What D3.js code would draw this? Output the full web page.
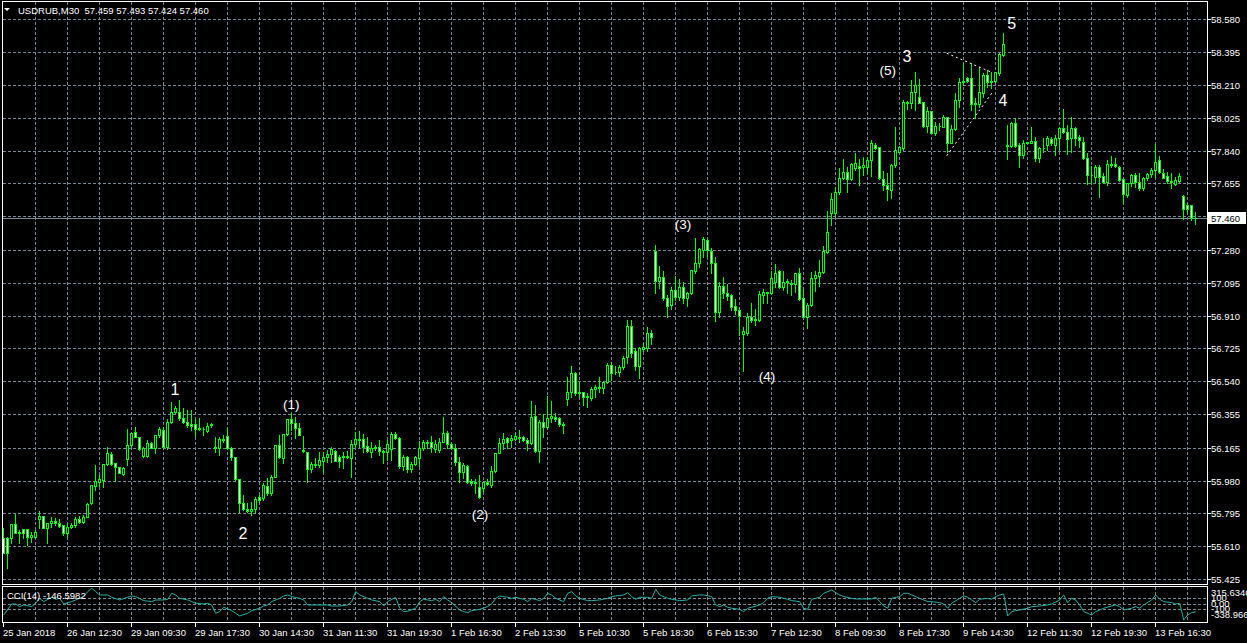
<!DOCTYPE html>
<html><head><meta charset="utf-8">
<script src="https://cdn.jsdelivr.net/npm/d3@7"></script>
<style>
html,body{margin:0;padding:0;background:#000;overflow:hidden}
svg{display:block}
text{font-family:"Liberation Sans",Arial,sans-serif}
</style>
</head><body><svg id="c" width="1247" height="643"></svg>
<script>
// ---------- DATA ----------
const symbolTitle = "USDRUB,M30  57.459 57.493 57.424 57.460";
const open = [
55.655,55.655,55.655,55.735,55.686,55.705,55.705,55.660,55.660,55.762,
55.780,55.711,55.739,55.750,55.739,55.730,55.683,55.717,55.730,55.762,
55.748,55.777,55.852,55.951,55.974,55.983,56.074,56.130,56.077,56.055,
56.017,56.102,56.179,56.252,56.224,56.119,56.119,56.190,56.162,56.235,
56.265,56.171,56.312,56.368,56.368,56.331,56.312,56.297,56.297,56.269,
56.269,56.261,56.293,56.167,56.162,56.213,56.231,56.162,56.115,55.987,
55.852,55.818,55.810,55.818,55.886,55.880,55.949,55.912,56.002,56.181,
56.109,56.241,56.325,56.306,56.275,56.151,56.143,56.043,56.074,56.068,
56.091,56.111,56.128,56.147,56.111,56.113,56.117,56.109,56.186,56.213,
56.213,56.175,56.143,56.166,56.170,56.147,56.139,56.158,56.241,56.222,
56.064,56.115,56.046,56.072,56.106,56.162,56.200,56.196,56.158,56.153,
56.200,56.247,56.185,56.162,56.087,56.030,56.062,55.980,55.965,55.942,
55.940,55.970,55.955,56.034,56.134,56.194,56.222,56.209,56.215,56.226,
56.226,56.209,56.190,56.344,56.149,56.309,56.284,56.331,56.337,56.331,
56.296,56.440,56.481,56.585,56.476,56.481,56.453,56.444,56.494,56.506,
56.500,56.538,56.632,56.590,56.594,56.618,56.675,56.853,56.710,56.626,
56.724,56.725,56.810,57.276,57.107,57.126,57.007,56.970,57.054,57.017,
57.069,57.011,57.035,57.163,57.205,57.280,57.336,57.276,57.205,56.932,
57.077,57.039,57.026,56.964,56.941,56.804,56.810,56.904,56.889,56.885,
57.026,57.039,57.039,57.101,57.161,57.073,57.097,57.092,57.088,57.148,
57.007,56.904,56.970,57.120,57.135,57.154,57.270,57.490,57.490,57.605,
57.684,57.721,57.678,57.740,57.753,57.746,57.750,57.787,57.872,57.858,
57.678,57.646,57.618,57.759,57.834,57.853,58.112,58.107,58.172,58.140,
58.112,57.979,58.063,57.941,57.979,57.975,58.028,57.885,57.962,58.125,
58.225,58.248,58.248,58.101,58.103,58.163,58.266,58.229,58.234,58.276,
58.379,57.872,57.866,57.998,57.872,57.815,57.885,57.881,57.894,57.796,
57.853,57.872,57.904,57.872,57.909,57.966,57.947,57.909,57.966,57.919,
57.890,57.796,57.702,57.693,57.749,57.697,57.665,57.765,57.765,57.746,
57.678,57.590,57.655,57.702,57.665,57.627,57.684,57.708,57.731,57.787,
57.716,57.697,57.667,57.652,57.671,57.586,57.533,57.533,57.459];
const high = [
55.711,55.660,55.735,55.790,55.701,55.705,55.705,55.692,55.701,55.809,
55.780,55.743,55.777,55.767,55.762,55.730,55.739,55.739,55.777,55.780,
55.786,55.852,55.955,56.068,56.012,56.074,56.171,56.143,56.077,56.055,
56.058,56.269,56.250,56.284,56.224,56.171,56.209,56.199,56.239,56.284,
56.284,56.325,56.425,56.400,56.434,56.387,56.378,56.378,56.325,56.331,
56.284,56.303,56.303,56.228,56.228,56.237,56.275,56.171,56.115,55.987,
55.899,55.852,55.861,55.889,55.899,55.964,55.993,56.012,56.181,56.237,
56.241,56.325,56.359,56.340,56.303,56.231,56.143,56.087,56.105,56.143,
56.143,56.153,56.171,56.153,56.124,56.143,56.147,56.209,56.256,56.260,
56.241,56.228,56.196,56.181,56.209,56.153,56.209,56.256,56.256,56.228,
56.124,56.121,56.087,56.119,56.203,56.209,56.209,56.233,56.209,56.218,
56.340,56.260,56.200,56.185,56.115,56.077,56.068,55.989,55.989,56.012,
55.974,55.989,56.062,56.134,56.222,56.247,56.228,56.237,56.247,56.265,
56.233,56.218,56.431,56.406,56.324,56.354,56.457,56.429,56.359,56.340,
56.312,56.566,56.626,56.594,56.538,56.481,56.472,56.506,56.519,56.562,
56.538,56.645,56.650,56.626,56.632,56.682,56.885,56.885,56.725,56.731,
56.754,56.844,56.829,57.308,57.190,57.163,57.026,57.069,57.133,57.114,
57.101,57.045,57.167,57.346,57.289,57.351,57.340,57.289,57.238,57.101,
57.129,57.088,57.032,57.002,56.960,56.848,56.923,56.979,56.945,57.050,
57.058,57.045,57.163,57.201,57.167,57.163,57.114,57.110,57.152,57.176,
57.058,56.979,57.158,57.163,57.223,57.302,57.501,57.599,57.633,57.740,
57.791,57.750,57.772,57.828,57.791,57.802,57.806,57.900,57.881,57.862,
57.727,57.712,57.763,57.971,57.866,58.125,58.122,58.238,58.285,58.242,
58.116,58.088,58.063,58.003,57.994,58.041,58.031,57.984,58.163,58.248,
58.332,58.257,58.336,58.135,58.313,58.276,58.294,58.285,58.285,58.388,
58.505,57.984,58.003,58.022,57.881,57.900,57.890,57.975,57.919,57.862,
57.909,57.922,57.919,57.928,57.975,58.073,57.984,58.028,57.971,57.928,
57.915,57.825,57.753,57.759,57.759,57.716,57.787,57.810,57.796,57.753,
57.684,57.659,57.706,57.712,57.712,57.693,57.716,57.740,57.875,57.810,
57.734,57.721,57.712,57.693,57.712,57.590,57.543,57.533,57.493];
const low = [
55.570,55.485,55.626,55.683,55.626,55.655,55.617,55.636,55.655,55.711,
55.711,55.630,55.720,55.730,55.720,55.673,55.664,55.711,55.720,55.739,
55.743,55.773,55.848,55.927,55.949,55.946,56.068,56.066,55.980,56.021,
56.012,56.066,56.171,56.224,56.152,56.115,56.115,56.162,56.137,56.228,
56.162,56.156,56.303,56.363,56.322,56.303,56.284,56.265,56.231,56.265,
56.237,56.256,56.284,56.143,56.124,56.199,56.158,56.096,55.983,55.805,
55.814,55.805,55.786,55.795,55.861,55.871,55.899,55.899,55.998,56.105,
56.077,56.237,56.265,56.218,56.237,56.143,55.970,56.030,56.055,56.058,
56.027,56.087,56.083,56.091,56.059,56.049,56.109,56.002,56.171,56.171,
56.143,56.143,56.115,56.153,56.124,56.081,56.096,56.096,56.213,56.053,
56.040,56.030,56.030,56.068,56.064,56.153,56.162,56.143,56.143,56.143,
56.196,56.162,56.158,56.068,55.974,55.997,55.965,55.955,55.908,55.880,
55.918,55.955,55.946,56.030,56.134,56.158,56.162,56.171,56.209,56.200,
56.203,56.153,56.185,56.143,56.087,56.228,56.275,56.312,56.316,56.290,
56.250,56.406,56.453,56.462,56.453,56.406,56.397,56.434,56.453,56.481,
56.472,56.528,56.547,56.581,56.570,56.607,56.641,56.678,56.603,56.560,
56.712,56.712,56.750,57.039,57.064,56.998,56.904,56.947,56.998,56.998,
56.983,56.964,57.032,57.148,57.182,57.238,57.238,57.152,56.881,56.900,
57.007,56.998,56.941,56.919,56.801,56.599,56.801,56.876,56.857,56.881,
56.979,56.983,57.032,57.073,57.064,57.054,57.035,57.026,57.045,56.998,
56.904,56.838,56.966,57.050,57.079,57.148,57.265,57.421,57.471,57.595,
57.678,57.609,57.674,57.731,57.646,57.703,57.712,57.697,57.847,57.678,
57.618,57.562,57.571,57.749,57.834,57.843,58.073,58.078,58.069,58.107,
57.971,57.947,57.937,57.928,57.956,57.971,57.834,57.881,57.956,58.088,
58.210,58.229,58.069,58.022,58.088,58.144,58.200,58.191,58.229,58.266,
58.373,57.791,57.862,57.862,57.749,57.796,57.881,57.881,57.783,57.778,
57.834,57.843,57.872,57.815,57.843,57.941,57.821,57.834,57.872,57.862,
57.791,57.652,57.652,57.665,57.580,57.655,57.646,57.749,57.749,57.671,
57.547,57.580,57.641,57.633,57.618,57.618,57.674,57.693,57.693,57.712,
57.684,57.655,57.627,57.646,57.665,57.452,57.486,57.449,57.424];
const close = [
55.574,55.574,55.735,55.686,55.692,55.686,55.660,55.673,55.692,55.780,
55.711,55.743,55.752,55.739,55.726,55.683,55.720,55.730,55.762,55.748,
55.777,55.848,55.955,55.978,55.987,56.074,56.134,56.074,56.055,56.025,
56.051,56.179,56.250,56.228,56.158,56.166,56.190,56.166,56.235,56.269,
56.171,56.312,56.368,56.389,56.331,56.312,56.291,56.290,56.269,56.275,
56.268,56.290,56.297,56.162,56.213,56.209,56.162,56.115,55.987,55.852,
55.818,55.810,55.818,55.876,55.871,55.955,55.908,56.002,56.181,56.111,
56.241,56.325,56.306,56.275,56.237,56.145,56.043,56.074,56.068,56.096,
56.115,56.130,56.156,56.092,56.092,56.117,56.113,56.185,56.213,56.211,
56.171,56.147,56.166,56.170,56.149,56.143,56.185,56.241,56.218,56.064,
56.115,56.046,56.074,56.115,56.162,56.200,56.194,56.171,56.185,56.200,
56.250,56.185,56.162,56.087,56.030,56.068,55.974,55.965,55.974,55.890,
55.970,55.959,56.034,56.134,56.190,56.215,56.200,56.222,56.233,56.222,
56.209,56.190,56.337,56.149,56.309,56.280,56.335,56.346,56.325,56.297,
56.294,56.481,56.585,56.472,56.481,56.449,56.459,56.494,56.506,56.500,
56.534,56.632,56.588,56.594,56.622,56.673,56.853,56.701,56.626,56.725,
56.731,56.810,56.791,57.107,57.126,57.007,56.966,57.054,57.017,57.069,
57.011,57.035,57.167,57.205,57.284,57.342,57.280,57.205,56.932,57.077,
57.039,57.020,56.960,56.941,56.908,56.823,56.904,56.885,56.887,57.032,
57.045,57.041,57.120,57.152,57.073,57.097,57.107,57.088,57.152,57.002,
56.904,56.970,57.120,57.139,57.154,57.274,57.379,57.565,57.609,57.684,
57.721,57.678,57.765,57.768,57.740,57.759,57.787,57.881,57.853,57.684,
57.646,57.622,57.759,57.843,57.858,58.112,58.110,58.172,58.210,58.110,
57.979,58.063,57.941,57.979,57.977,58.028,57.885,57.962,58.125,58.229,
58.234,58.232,58.101,58.110,58.169,58.266,58.229,58.234,58.285,58.385,
58.441,57.866,57.998,57.866,57.815,57.885,57.887,57.894,57.796,57.853,
57.857,57.909,57.881,57.909,57.966,57.947,57.904,57.966,57.909,57.900,
57.796,57.702,57.700,57.749,57.693,57.665,57.765,57.759,57.753,57.674,
57.595,57.655,57.702,57.665,57.627,57.684,57.708,57.731,57.778,57.721,
57.687,57.671,57.665,57.674,57.697,57.511,57.509,57.458,57.460];

const priceTickValues = [58.580,58.395,58.210,58.025,57.840,57.655,57.470,57.280,57.095,56.910,56.725,56.540,56.355,56.165,55.980,55.795,55.610,55.425];
const priceTickLabels = ["58.580","58.395","58.210","58.025","57.840","57.655","","57.280","57.095","56.910","56.725","56.540","56.355","56.165","55.980","55.795","55.610","55.425"];
const lastPrice = 57.460;
const lastPriceLabel = "57.460";

const timeLabels = ["25 Jan 2018","26 Jan 12:30","29 Jan 09:30","29 Jan 17:30","30 Jan 14:30","31 Jan 11:30","31 Jan 19:30","1 Feb 16:30","2 Feb 13:30","5 Feb 10:30","5 Feb 18:30","6 Feb 15:30","7 Feb 12:30","8 Feb 09:30","8 Feb 17:30","9 Feb 14:30","12 Feb 11:30","12 Feb 19:30","13 Feb 16:30"];

const cciTitle = "CCI(14) -146.5982";
const cciMax = 315.6346, cciMin = -338.966;
const cciLevels = [100, 0, -100];
const cciBars = [0,2,3,4,5,7,8,9,10,12,13,14,15,17,18,19,20,21,22,23,24,26,27,29,31,32,33,35,37,38,40,41,42,43,44,46,47,48,50,51,52,53,54,55,57,58,59,61,62,64,65,66,67,69,70,71,72,74,75,76,77,79,81,82,84,86,87,88,89,91,92,94,95,96,98,99,100,101,103,104,105,107,108,109,110,111,112,114,115,116,117,119,121,122,123,124,126,127,128,130,131,132,134,135,136,137,138,140,141,142,143,144,146,147,149,151,152,153,155,156,157,158,159,161,162,163,164,166,167,169,171,172,174,175,177,178,179,180,181,182,184,185,186,187,189,190,191,192,194,195,196,197,199,200,201,202,204,205,207,208,209,210,212,213,215,217,218,219,220,221,222,224,225,226,227,229,230,231,232,234,235,236,237,239,240,241,242,243,244,246,247,248,249,250,251,252,253,254,256,257,259,261,262,264,265,266,267,268,269,270,272,273,274,275,277,278,279,280,282,283,284,285,287,288,289,290,292,293,294,295,296,297,298];
const cciValues = [-204,-4,-4,-52,-22,-52,9,99,39,118,81,99,-4,39,69,99,130,221,281,221,160,160,118,69,118,142,130,57,39,69,69,81,190,160,99,69,39,9,-4,9,-22,-173,-143,-64,-125,-173,-222,-173,-125,-82,-40,-22,39,99,142,160,130,99,69,-22,-22,-22,-22,-40,-40,-22,39,221,160,99,69,39,-40,39,118,-82,-143,-135,-82,39,81,57,81,39,130,69,21,-113,-143,-161,-125,-101,-52,-4,99,142,118,99,118,81,39,99,57,99,190,160,99,39,190,221,142,99,57,57,69,99,130,142,160,202,130,81,118,118,99,263,160,99,81,57,69,142,160,160,130,-22,-52,-22,-64,-82,-101,-143,-82,-64,-22,21,99,130,118,99,81,57,39,-82,-101,81,118,190,251,202,160,130,99,87,87,87,118,39,-40,-82,99,130,190,190,160,99,69,39,39,21,-4,-82,9,99,142,118,69,21,81,99,81,130,160,178,-222,-143,-125,-113,-82,-52,-40,-22,-4,69,160,21,99,69,-22,-143,-204,-143,-113,-82,-40,-22,-52,-113,-82,-52,-82,-22,69,160,81,39,21,-4,9,-295,-204,-161,-146.6];

const waveLabels = ["1","2","(1)","(2)","(3)","(4)","(5)","3","4","5"];
const waveBars   = [42.8, 59.8, 71.9, 119.1, 169.8, 190.8, 221.0, 225.8, 249.8, 252.0];
const wavePrices = [56.491, 55.679, 56.406, 55.786, 57.421, 56.569, 58.294, 58.368, 58.120, 58.559];

const trendFromBar   = [235.75, 235.75];
const trendFromPrice = [58.389, 57.811];
const trendToBar     = [247, 247];
const trendToPrice   = [58.281, 58.163];

// ---------- CHART ----------
const W = 1247, H = 643;
const L = 2.5, R = 1207.5, T = 1.5, B = 584.5, CT = 586.5, CB = 622.5;
const GRID = "#778899", BULL = "#00ff00";
const FS = "9.5px";

const svg = d3.select("#c");
svg.append("rect").attr("width", W).attr("height", H).attr("fill", "#000");

const nBars = open.length;
const x = d3.scaleLinear().domain([0, nBars - 1]).range([3.7, 3.7 + 4 * (nBars - 1)]);
const y = d3.scaleLinear().domain([55.425, 58.580]).range([579, 19.3]);
const yc = d3.scaleLinear().domain([cciMin, cciMax]).range([622.4, 586.4]);
const cx = i => Math.round(x(i)) - 0.5;
const py = v => Math.round(y(v)) + 0.5;

const grid = svg.append("g").attr("stroke", GRID).attr("stroke-width", 1)
  .attr("stroke-dasharray", "3,2").attr("shape-rendering", "crispEdges");

// vertical grid
const vBars = d3.range(8, nBars, 8);
grid.selectAll("line.vg").data(vBars).join("line").attr("class", "vg")
  .attr("x1", d => cx(d)).attr("x2", d => cx(d)).attr("y1", T).attr("y2", B);
grid.selectAll("line.vgc").data(vBars).join("line").attr("class", "vgc")
  .attr("x1", d => cx(d)).attr("x2", d => cx(d)).attr("y1", CT).attr("y2", CB);
// horizontal grid
grid.selectAll("line.hg").data(priceTickValues).join("line").attr("class", "hg")
  .attr("x1", L).attr("x2", R).attr("y1", d => py(d)).attr("y2", d => py(d));
// CCI levels
grid.selectAll("line.cl").data(cciLevels).join("line").attr("class", "cl")
  .attr("x1", L).attr("x2", R)
  .attr("y1", d => Math.round(yc(d)) + 0.5).attr("y2", d => Math.round(yc(d)) + 0.5);

// current price line
svg.append("line").attr("x1", L).attr("x2", R)
  .attr("y1", py(lastPrice)).attr("y2", py(lastPrice))
  .attr("stroke", GRID).attr("shape-rendering", "crispEdges");

// candles
const idx = d3.range(nBars);
const cg = svg.append("g").attr("shape-rendering", "crispEdges");
cg.selectAll("line.wick").data(idx).join("line").attr("class", "wick")
  .attr("x1", i => cx(i)).attr("x2", i => cx(i))
  .attr("y1", i => py(high[i]) - 0.5).attr("y2", i => py(low[i]) + 0.5)
  .attr("stroke", BULL).attr("stroke-width", 1);
cg.selectAll("path.body").data(idx).join("path").attr("class", "body")
  .attr("d", i => {
    const a = py(open[i]), b = py(close[i]);
    const t = Math.min(a, b), bt = Math.max(a, b);
    const c = cx(i);
    return `M${c - 1},${t}H${c + 1}V${bt}H${c - 1}Z`;
  })
  .attr("fill", i => close[i] < open[i] ? "#ffffff" : "#000000")
  .attr("stroke", BULL).attr("stroke-width", 1);

// CCI line
const cciLine = d3.line().x((d, k) => x(cciBars[k])).y(d => yc(d));
svg.append("path").datum(cciValues).attr("d", cciLine)
  .attr("fill", "none").attr("stroke", "#20b2aa").attr("stroke-width", 1);

// trend lines (dotted)
svg.selectAll("line.trend").data(d3.range(trendFromBar.length)).join("line").attr("class", "trend")
  .attr("x1", k => x(trendFromBar[k])).attr("y1", k => y(trendFromPrice[k]))
  .attr("x2", k => x(trendToBar[k])).attr("y2", k => y(trendToPrice[k]))
  .attr("stroke", "#ffffff").attr("stroke-width", 1).attr("stroke-dasharray", "2,3");

// wave labels
svg.selectAll("text.wave").data(waveLabels).join("text").attr("class", "wave")
  .attr("x", (d, k) => x(waveBars[k])).attr("y", (d, k) => y(wavePrices[k]))
  .attr("text-anchor", "middle").attr("dominant-baseline", "central")
  .attr("fill", "#ffffff")
  .attr("font-size", d => d.startsWith("(") ? "13.5px" : "16px")
  .text(d => d);

// frames
svg.append("rect").attr("x", L).attr("y", T).attr("width", R - L).attr("height", B - T)
  .attr("fill", "none").attr("stroke", "#fff").attr("shape-rendering", "crispEdges");
svg.append("rect").attr("x", L).attr("y", CT).attr("width", R - L).attr("height", CB - CT)
  .attr("fill", "none").attr("stroke", "#fff").attr("shape-rendering", "crispEdges");

// right price axis
const ax = svg.append("g");
ax.selectAll("line.pt").data(priceTickValues).join("line").attr("class", "pt")
  .attr("x1", R).attr("x2", R + 3).attr("y1", d => py(d)).attr("y2", d => py(d))
  .attr("stroke", "#fff").attr("shape-rendering", "crispEdges");
ax.selectAll("text.pl").data(priceTickValues).join("text").attr("class", "pl")
  .attr("x", 1211).attr("y", d => py(d) + 3.5)
  .attr("fill", "#fff").attr("font-size", FS)
  .text((d, k) => priceTickLabels[k]);

// current price label
svg.append("rect").attr("x", 1208).attr("y", py(lastPrice) - 6.5).attr("width", 38).attr("height", 12)
  .attr("fill", "#fff");
svg.append("text").attr("x", 1211).attr("y", py(lastPrice) + 3.5)
  .attr("fill", "#000").attr("font-size", FS).text(lastPriceLabel);

// CCI right labels
const cciLabelVals = [cciMax, 100, 0, -100, cciMin];
const cciLabelText = ["315.6346", "100", "0.00", "-100", "-338.966"];
const cciLabelY = v => v === cciMax ? yc(v) + 10 : v === cciMin ? yc(v) - 4 : yc(v) + 3;
svg.selectAll("text.cl").data(cciLabelVals).join("text").attr("class", "cl")
  .attr("x", 1211).attr("y", d => cciLabelY(d))
  .attr("fill", "#fff").attr("font-size", FS)
  .text((d, k) => cciLabelText[k]);

// time axis
const tBars = timeLabels.map((d, k) => k * 16);
svg.selectAll("line.tt").data(tBars).join("line").attr("class", "tt")
  .attr("x1", d => cx(d)).attr("x2", d => cx(d)).attr("y1", CB).attr("y2", CB + 4)
  .attr("stroke", "#fff").attr("shape-rendering", "crispEdges");
svg.selectAll("text.tl").data(timeLabels).join("text").attr("class", "tl")
  .attr("x", (d, k) => cx(tBars[k]) - 0.5).attr("y", 636)
  .attr("fill", "#fff").attr("font-size", FS)
  .text(d => d);

// header
svg.append("path").attr("d", "M4,8L10,8L7,11Z").attr("fill", "#fff");
svg.append("text").attr("x", 18).attr("y", 14).attr("fill", "#fff").attr("font-size", FS)
  .style("white-space", "pre").text(symbolTitle);
svg.append("text").attr("x", 7).attr("y", 598.5).attr("fill", "#fff").attr("font-size", FS)
  .text(cciTitle);
</script>
</body></html>
